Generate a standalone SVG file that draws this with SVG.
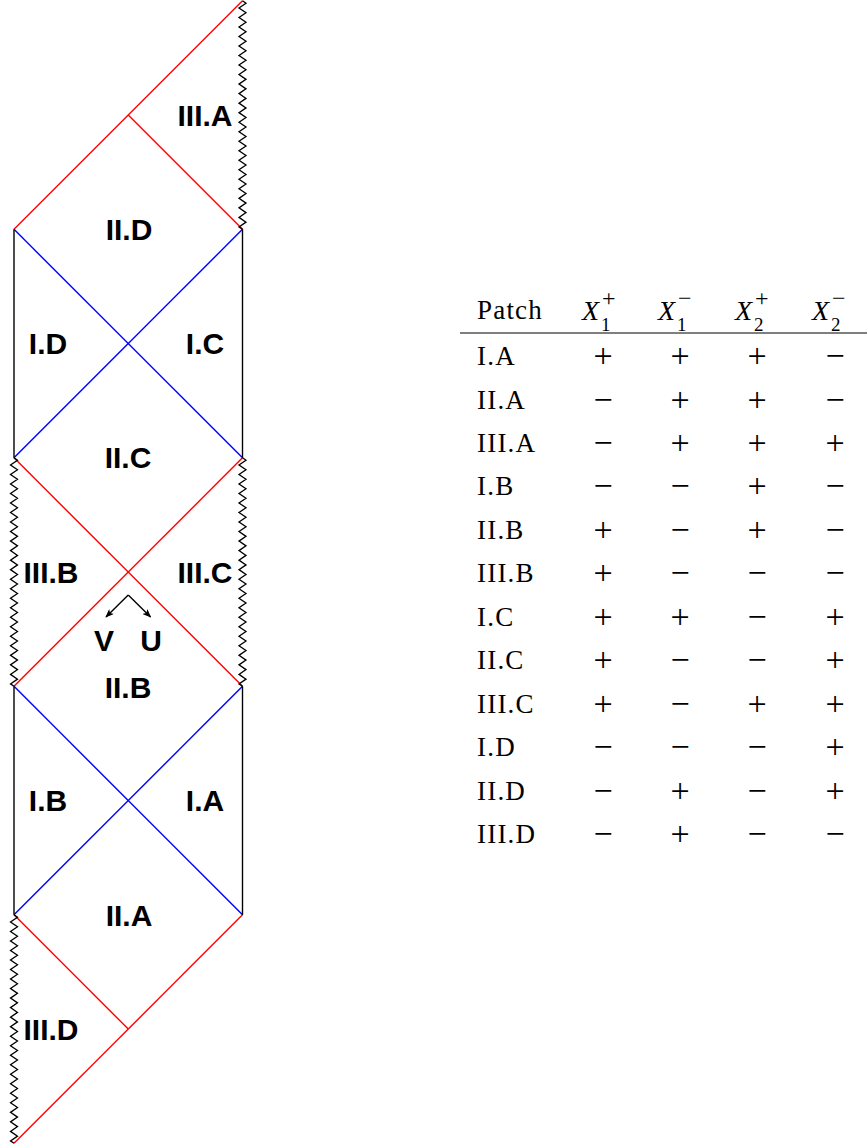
<svg xmlns="http://www.w3.org/2000/svg" xmlns:xlink="http://www.w3.org/1999/xlink" width="867" height="1147" viewBox="0 0 867 1147">
<style>
.red{stroke:#ff0000;stroke-width:1.4;fill:none}
.blue{stroke:#0000ff;stroke-width:1.4;fill:none}
.blk{stroke:#000;stroke-width:1.4;fill:none}
.zz{stroke:#000;stroke-width:1.3;fill:none;stroke-linejoin:miter}
.lab{font-family:"Liberation Sans",Arial,sans-serif;font-weight:bold;font-size:30px;fill:#000;text-anchor:middle}
.tt{font-family:"Liberation Serif","Times New Roman",serif;font-size:27px;fill:#000;letter-spacing:1.2px}
.pm{font-family:"Liberation Serif","Times New Roman",serif;font-size:34px;fill:#000;text-anchor:middle}
.xi{font-family:"Liberation Serif","Times New Roman",serif;font-style:italic;font-size:28px;fill:#000}
.sm{font-family:"Liberation Serif","Times New Roman",serif;font-size:19px;fill:#000}
.sp{font-family:"Liberation Serif","Times New Roman",serif;font-size:24px;fill:#000}
</style>
<defs>
<path id="zz" d="M0,0 l3.5,2.38 -7,4.76 7,4.76 -7,4.76 7,4.76 -7,4.76 7,4.76 -7,4.76 7,4.76 -7,4.76 7,4.76 -7,4.76 7,4.76 -7,4.76 7,4.76 -7,4.76 7,4.76 -7,4.76 7,4.76 -7,4.76 7,4.76 -7,4.76 7,4.76 -7,4.76 7,4.76 -7,4.76 7,4.76 -7,4.76 7,4.76 -7,4.76 7,4.76 -7,4.76 7,4.76 -7,4.76 7,4.76 -7,4.76 7,4.76 -7,4.76 7,4.76 -7,4.76 7,4.76 -7,4.76 7,4.76 -7,4.76 7,4.76 -7,4.76 7,4.76 -7,4.76 3.5,2.38"/>
<marker id="ah" viewBox="0 0 10 8" refX="9" refY="4" markerWidth="9" markerHeight="7" markerUnits="userSpaceOnUse" orient="auto">
<path d="M0,0 L10,4 L0,8 L2.5,4 z" fill="#000"/>
</marker>
</defs>
<g id="connectors">
<line class="red" x1="242.5" y1="0.8" x2="14" y2="229.3"/>
<line class="red" x1="128.25" y1="115.05" x2="242.5" y2="229.3"/>
<line class="blue" x1="14" y1="229.3" x2="242.5" y2="457.8"/>
<line class="blue" x1="242.5" y1="229.3" x2="14" y2="457.8"/>
<line class="red" x1="14" y1="457.8" x2="242.5" y2="686.3"/>
<line class="red" x1="242.5" y1="457.8" x2="14" y2="686.3"/>
<line class="blue" x1="14" y1="686.3" x2="242.5" y2="914.8"/>
<line class="blue" x1="242.5" y1="686.3" x2="14" y2="914.8"/>
<line class="red" x1="14" y1="914.8" x2="128.25" y2="1029.05"/>
<line class="red" x1="242.5" y1="914.8" x2="14" y2="1143.3"/>
<line class="blk" x1="14" y1="229.3" x2="14" y2="457.8"/>
<line class="blk" x1="242.5" y1="229.3" x2="242.5" y2="457.8"/>
<line class="blk" x1="14" y1="686.3" x2="14" y2="914.8"/>
<line class="blk" x1="242.5" y1="686.3" x2="242.5" y2="914.8"/>
<use xlink:href="#zz" href="#zz" class="zz" x="242.5" y="0.8"/>
<use xlink:href="#zz" href="#zz" class="zz" x="14" y="457.8"/>
<use xlink:href="#zz" href="#zz" class="zz" x="242.5" y="457.8"/>
<use xlink:href="#zz" href="#zz" class="zz" x="14" y="914.8"/>
<path class="blk" d="M128.25,595 L106,617" stroke-width="1.2" marker-end="url(#ah)"/>
<path class="blk" d="M128.25,595 L150.5,617" stroke-width="1.2" marker-end="url(#ah)"/>
</g>
<g id="n-IIIA"><text class="lab" x="205" y="126">III.A</text></g>
<g id="n-IID"><text class="lab" x="129" y="240">II.D</text></g>
<g id="n-ID"><text class="lab" x="48" y="354">I.D</text></g>
<g id="n-IC"><text class="lab" x="205" y="354">I.C</text></g>
<g id="n-IIC"><text class="lab" x="128" y="468">II.C</text></g>
<g id="n-IIIB"><text class="lab" x="51" y="583">III.B</text></g>
<g id="n-IIIC"><text class="lab" x="205" y="583">III.C</text></g>
<g id="n-V"><text class="lab" x="104" y="651">V</text></g>
<g id="n-U"><text class="lab" x="151" y="651">U</text></g>
<g id="n-IIB"><text class="lab" x="128" y="698">II.B</text></g>
<g id="n-IB"><text class="lab" x="48" y="811">I.B</text></g>
<g id="n-IA"><text class="lab" x="205" y="811">I.A</text></g>
<g id="n-IIA"><text class="lab" x="129" y="926">II.A</text></g>
<g id="n-IIID"><text class="lab" x="51" y="1040">III.D</text></g>
<g id="table">
<text class="tt" x="477" y="319">Patch</text>
<text class="xi" x="582" y="320">X</text><text class="sp" x="602" y="306">+</text><text class="sm" x="601" y="331">1</text>
<text class="xi" x="658" y="320">X</text><text class="sp" x="678" y="306">−</text><text class="sm" x="677" y="331">1</text>
<text class="xi" x="735" y="320">X</text><text class="sp" x="755" y="306">+</text><text class="sm" x="754" y="331">2</text>
<text class="xi" x="812" y="320">X</text><text class="sp" x="832" y="306">−</text><text class="sm" x="831" y="331">2</text>
<line x1="460" y1="333" x2="867" y2="333" stroke="#000" stroke-width="1.1"/>
<g class="tt">
<text x="477" y="365">I.A</text>
<text x="477" y="408.5">II.A</text>
<text x="477" y="451.9">III.A</text>
<text x="477" y="495.4">I.B</text>
<text x="477" y="538.8">II.B</text>
<text x="477" y="582.3">III.B</text>
<text x="477" y="625.7">I.C</text>
<text x="477" y="669.2">II.C</text>
<text x="477" y="712.6">III.C</text>
<text x="477" y="756.1">I.D</text>
<text x="477" y="799.5">II.D</text>
<text x="477" y="843">III.D</text>
</g>
<g class="pm">
<text x="603" y="367">+</text><text x="680" y="367">+</text><text x="757" y="367">+</text><text x="835" y="367">−</text>
<text x="603" y="410.5">−</text><text x="680" y="410.5">+</text><text x="757" y="410.5">+</text><text x="835" y="410.5">−</text>
<text x="603" y="453.9">−</text><text x="680" y="453.9">+</text><text x="757" y="453.9">+</text><text x="835" y="453.9">+</text>
<text x="603" y="497.4">−</text><text x="680" y="497.4">−</text><text x="757" y="497.4">+</text><text x="835" y="497.4">−</text>
<text x="603" y="540.8">+</text><text x="680" y="540.8">−</text><text x="757" y="540.8">+</text><text x="835" y="540.8">−</text>
<text x="603" y="584.3">+</text><text x="680" y="584.3">−</text><text x="757" y="584.3">−</text><text x="835" y="584.3">−</text>
<text x="603" y="627.7">+</text><text x="680" y="627.7">+</text><text x="757" y="627.7">−</text><text x="835" y="627.7">+</text>
<text x="603" y="671.2">+</text><text x="680" y="671.2">−</text><text x="757" y="671.2">−</text><text x="835" y="671.2">+</text>
<text x="603" y="714.6">+</text><text x="680" y="714.6">−</text><text x="757" y="714.6">+</text><text x="835" y="714.6">+</text>
<text x="603" y="758.1">−</text><text x="680" y="758.1">−</text><text x="757" y="758.1">−</text><text x="835" y="758.1">+</text>
<text x="603" y="801.5">−</text><text x="680" y="801.5">+</text><text x="757" y="801.5">−</text><text x="835" y="801.5">+</text>
<text x="603" y="845">−</text><text x="680" y="845">+</text><text x="757" y="845">−</text><text x="835" y="845">−</text>
</g>
</g>
</svg>
